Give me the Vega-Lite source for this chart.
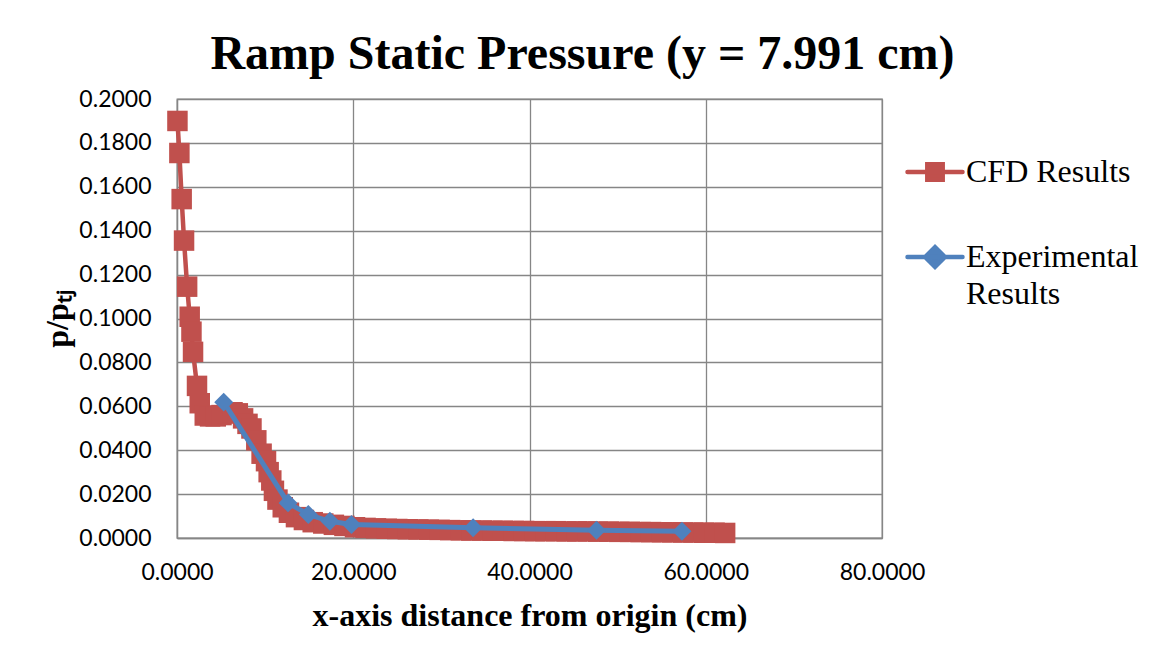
{
  "$schema": "https://vega.github.io/schema/vega-lite/v6.json",
  "autosize": {"type": "none"},
  "padding": {"left": 177, "top": 99, "right": 275, "bottom": 107},
  "width": 705,
  "height": 439,
  "background": "white",
  "title": {
    "text": "Ramp Static Pressure (y = 7.991 cm)",
    "font": "Liberation Serif",
    "fontSize": 48,
    "fontWeight": "bold",
    "color": "black",
    "frame": "group",
    "anchor": "middle",
    "dx": 53,
    "dy": 61,
    "baseline": "alphabetic",
    "offset": 32
  },
  "datasets": {
    "pts": [
      {"series": "CFD Results", "x": 0.05, "y": 0.1900},
      {"series": "CFD Results", "x": 0.27, "y": 0.1754},
      {"series": "CFD Results", "x": 0.53, "y": 0.1544},
      {"series": "CFD Results", "x": 0.80, "y": 0.1355},
      {"series": "CFD Results", "x": 1.15, "y": 0.1145},
      {"series": "CFD Results", "x": 1.44, "y": 0.1008},
      {"series": "CFD Results", "x": 1.64, "y": 0.0940},
      {"series": "CFD Results", "x": 1.82, "y": 0.0848},
      {"series": "CFD Results", "x": 2.27, "y": 0.0693},
      {"series": "CFD Results", "x": 2.58, "y": 0.0614},
      {"series": "CFD Results", "x": 3.15, "y": 0.0558},
      {"series": "CFD Results", "x": 3.75, "y": 0.0554},
      {"series": "CFD Results", "x": 4.40, "y": 0.0554},
      {"series": "CFD Results", "x": 5.05, "y": 0.0560},
      {"series": "CFD Results", "x": 5.70, "y": 0.0568},
      {"series": "CFD Results", "x": 6.30, "y": 0.0573},
      {"series": "CFD Results", "x": 6.90, "y": 0.0568},
      {"series": "CFD Results", "x": 7.50, "y": 0.0545},
      {"series": "CFD Results", "x": 8.00, "y": 0.0520},
      {"series": "CFD Results", "x": 8.45, "y": 0.0499},
      {"series": "CFD Results", "x": 9.00, "y": 0.0445},
      {"series": "CFD Results", "x": 9.60, "y": 0.0384},
      {"series": "CFD Results", "x": 10.10, "y": 0.0350},
      {"series": "CFD Results", "x": 10.40, "y": 0.0300},
      {"series": "CFD Results", "x": 10.70, "y": 0.0262},
      {"series": "CFD Results", "x": 11.00, "y": 0.0215},
      {"series": "CFD Results", "x": 11.40, "y": 0.0175},
      {"series": "CFD Results", "x": 12.00, "y": 0.0140},
      {"series": "CFD Results", "x": 12.70, "y": 0.0115},
      {"series": "CFD Results", "x": 13.50, "y": 0.0095},
      {"series": "CFD Results", "x": 14.40, "y": 0.0082},
      {"series": "CFD Results", "x": 15.40, "y": 0.0072},
      {"series": "CFD Results", "x": 16.60, "y": 0.0066},
      {"series": "CFD Results", "x": 17.80, "y": 0.0060},
      {"series": "CFD Results", "x": 19.00, "y": 0.0055},
      {"series": "CFD Results", "x": 20.20, "y": 0.0049},
      {"series": "CFD Results", "x": 21.40, "y": 0.0046},
      {"series": "CFD Results", "x": 22.60, "y": 0.0044},
      {"series": "CFD Results", "x": 23.80, "y": 0.0042},
      {"series": "CFD Results", "x": 25.00, "y": 0.0041},
      {"series": "CFD Results", "x": 26.20, "y": 0.0040},
      {"series": "CFD Results", "x": 27.40, "y": 0.0039},
      {"series": "CFD Results", "x": 28.60, "y": 0.0038},
      {"series": "CFD Results", "x": 29.80, "y": 0.0037},
      {"series": "CFD Results", "x": 31.00, "y": 0.0036},
      {"series": "CFD Results", "x": 32.20, "y": 0.0035},
      {"series": "CFD Results", "x": 33.40, "y": 0.0034},
      {"series": "CFD Results", "x": 34.60, "y": 0.0034},
      {"series": "CFD Results", "x": 35.80, "y": 0.0033},
      {"series": "CFD Results", "x": 37.00, "y": 0.0033},
      {"series": "CFD Results", "x": 38.20, "y": 0.0032},
      {"series": "CFD Results", "x": 39.40, "y": 0.0032},
      {"series": "CFD Results", "x": 40.60, "y": 0.0031},
      {"series": "CFD Results", "x": 41.80, "y": 0.0031},
      {"series": "CFD Results", "x": 43.00, "y": 0.0031},
      {"series": "CFD Results", "x": 44.20, "y": 0.0030},
      {"series": "CFD Results", "x": 45.40, "y": 0.0030},
      {"series": "CFD Results", "x": 46.60, "y": 0.0030},
      {"series": "CFD Results", "x": 47.80, "y": 0.0029},
      {"series": "CFD Results", "x": 49.00, "y": 0.0029},
      {"series": "CFD Results", "x": 50.20, "y": 0.0028},
      {"series": "CFD Results", "x": 51.40, "y": 0.0028},
      {"series": "CFD Results", "x": 52.60, "y": 0.0027},
      {"series": "CFD Results", "x": 53.80, "y": 0.0027},
      {"series": "CFD Results", "x": 55.00, "y": 0.0026},
      {"series": "CFD Results", "x": 56.20, "y": 0.0026},
      {"series": "CFD Results", "x": 57.40, "y": 0.0025},
      {"series": "CFD Results", "x": 58.60, "y": 0.0025},
      {"series": "CFD Results", "x": 59.80, "y": 0.0024},
      {"series": "CFD Results", "x": 61.00, "y": 0.0024},
      {"series": "CFD Results", "x": 62.20, "y": 0.0023},
      {"series": "Experimental Results", "x": 5.30, "y": 0.0619},
      {"series": "Experimental Results", "x": 12.60, "y": 0.0160},
      {"series": "Experimental Results", "x": 14.90, "y": 0.0107},
      {"series": "Experimental Results", "x": 17.35, "y": 0.0076},
      {"series": "Experimental Results", "x": 19.80, "y": 0.0062},
      {"series": "Experimental Results", "x": 33.60, "y": 0.0047},
      {"series": "Experimental Results", "x": 47.60, "y": 0.0035},
      {"series": "Experimental Results", "x": 57.30, "y": 0.0031}
    ]
  },
  "data": {"name": "pts"},
  "encoding": {
    "x": {
      "field": "x", "type": "quantitative",
      "scale": {"domain": [0, 80], "nice": false},
      "axis": {
        "values": [0, 20, 40, 60, 80], "format": ".4f",
        "labelFlush": false,
        "title": "x-axis distance from origin (cm)",
        "labelPadding": 23, "titlePadding": 16
      }
    },
    "y": {
      "field": "y", "type": "quantitative",
      "scale": {"domain": [0, 0.2], "nice": false},
      "axis": {
        "values": [0, 0.02, 0.04, 0.06, 0.08, 0.1, 0.12, 0.14, 0.16, 0.18, 0.2],
        "format": ".4f",
        "labelFlush": false,
        "title": "p/pₜⱼ",
        "labelPadding": 26, "titlePadding": 4
      }
    },
    "color": {
      "field": "series", "type": "nominal",
      "scale": {"domain": ["CFD Results", "Experimental Results"], "range": ["#C0504D", "#4F81BD"]},
      "legend": {
        "title": null,
        "orient": "none",
        "legendX": 728,
        "legendY": 43,
        "padding": 0,
        "rowPadding": 38,
        "labelFont": "Liberation Serif",
        "labelFontSize": 32,
        "labelColor": "black",
        "labelOffset": 1,
        "labelLimit": 300,
        "symbolSize": 3025,
        "symbolStrokeWidth": 4.5,
        "labelExpr": "datum.label == 'Experimental Results' ? ['Experimental', 'Results'] : datum.label",
        "encode": {
          "labels": {"update": {"lineHeight": {"value": 37}}},
          "symbols": {
            "update": {
              "shape": {"signal": "datum.value == 'CFD Results' ? 'M-1,0H1M-0.28,-0.28H0.28V0.28H-0.28Z' : 'M-1,0H1M-0.36,0L0,-0.36L0.36,0L0,0.36Z'"},
              "fill": {"scale": "color", "field": "value"},
              "stroke": {"scale": "color", "field": "value"},
              "strokeCap": {"value": "round"},
              "opacity": {"value": 1}
            }
          }
        }
      }
    }
  },
  "layer": [
    {
      "transform": [{"filter": "datum.series == 'CFD Results'"}],
      "mark": {"type": "line", "strokeWidth": 4.5, "clip": false,
               "point": {"shape": "square", "size": 420, "filled": true, "opacity": 1}}
    },
    {
      "transform": [{"filter": "datum.series == 'Experimental Results'"}],
      "mark": {"type": "line", "strokeWidth": 5, "clip": false,
               "point": {"shape": "diamond", "size": 360, "filled": true, "opacity": 1}}
    }
  ],
  "config": {
    "view": {"stroke": "#868686", "strokeWidth": 1.3},
    "axis": {
      "grid": true,
      "gridColor": "#868686",
      "gridWidth": 1.3,
      "gridOpacity": 1,
      "domainColor": "#868686",
      "domainWidth": 1.3,
      "ticks": false,
      "labelFont": "Lato",
      "labelFontSize": 23,
      "labelColor": "black",
      "titleFont": "Liberation Serif",
      "titleFontSize": 32,
      "titleFontWeight": "bold",
      "titleColor": "black"
    }
  }
}
